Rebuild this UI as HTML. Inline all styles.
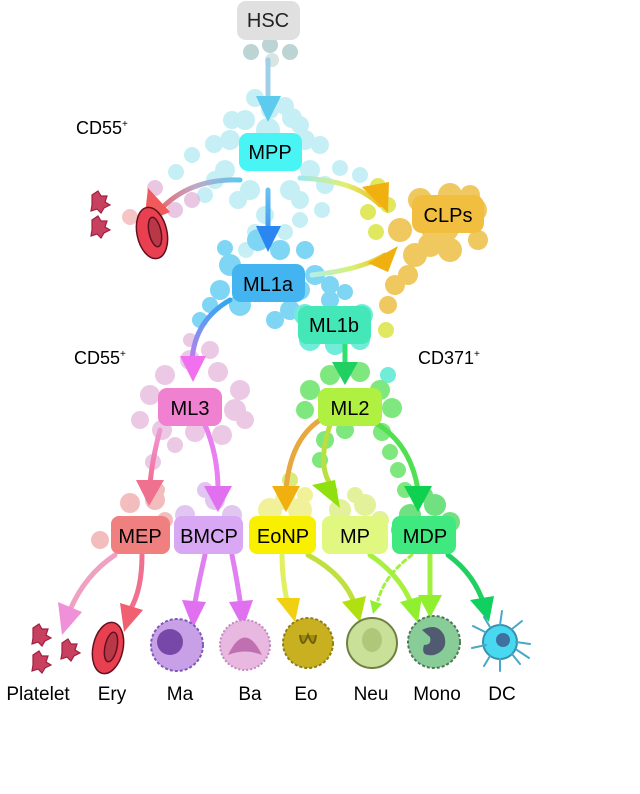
<!DOCTYPE html>
<html><head><meta charset="utf-8"><style>
html,body{margin:0;padding:0;background:#fff;width:640px;height:794px;overflow:hidden}
svg{display:block}
text{font-family:"Liberation Sans",sans-serif;}
</style></head><body>
<svg width="640" height="794" viewBox="0 0 640 794" xmlns="http://www.w3.org/2000/svg">
<defs>
<linearGradient id="gA" gradientUnits="userSpaceOnUse" x1="0" y1="170" x2="0" y2="250"><stop offset="0" stop-color="#7fd6f0"/><stop offset="1" stop-color="#2a86f0"/></linearGradient>
<linearGradient id="gL" gradientUnits="userSpaceOnUse" x1="240" y1="0" x2="150" y2="0"><stop offset="0" stop-color="#5cc8f0"/><stop offset="0.5" stop-color="#c0a8c8"/><stop offset="1" stop-color="#f05a5a"/></linearGradient>
<linearGradient id="gR" gradientUnits="userSpaceOnUse" x1="300" y1="0" x2="390" y2="0"><stop offset="0" stop-color="#9fe8f0"/><stop offset="0.5" stop-color="#e0f070"/><stop offset="1" stop-color="#f0b010"/></linearGradient>
<linearGradient id="gC" gradientUnits="userSpaceOnUse" x1="310" y1="0" x2="395" y2="0"><stop offset="0" stop-color="#b0f0f0"/><stop offset="0.5" stop-color="#d8f070"/><stop offset="1" stop-color="#f0b010"/></linearGradient>
<linearGradient id="g3" gradientUnits="userSpaceOnUse" x1="0" y1="300" x2="0" y2="380"><stop offset="0" stop-color="#30a8f0"/><stop offset="1" stop-color="#f070f0"/></linearGradient>
<linearGradient id="gB" gradientUnits="userSpaceOnUse" x1="0" y1="420" x2="0" y2="500"><stop offset="0" stop-color="#f0a0e0"/><stop offset="1" stop-color="#f06080"/></linearGradient>
</defs>

<!-- clusters -->
<g fill="#bcd4d4"><circle cx="251" cy="52" r="8"/><circle cx="270" cy="45" r="8"/><circle cx="290" cy="52" r="8"/><circle cx="272" cy="60" r="7" opacity=".6"/></g>
<g fill="#9fe6ee" opacity=".6">
<circle cx="255" cy="98" r="9"/><circle cx="285" cy="106" r="9"/><circle cx="232" cy="120" r="9"/><circle cx="300" cy="125" r="9"/>
<circle cx="214" cy="144" r="9"/><circle cx="192" cy="155" r="8"/><circle cx="176" cy="172" r="8"/><circle cx="320" cy="145" r="9"/><circle cx="340" cy="168" r="8"/><circle cx="360" cy="175" r="8"/>
<circle cx="225" cy="170" r="10"/><circle cx="310" cy="170" r="10"/><circle cx="250" cy="190" r="10"/><circle cx="290" cy="190" r="10"/><circle cx="205" cy="195" r="8"/><circle cx="322" cy="210" r="8"/>
<circle cx="230" cy="140" r="10"/><circle cx="305" cy="140" r="10"/><circle cx="268" cy="130" r="12"/><circle cx="265" cy="215" r="9"/><circle cx="300" cy="220" r="8"/>
<circle cx="246" cy="250" r="8"/><circle cx="282" cy="248" r="8"/>
<circle cx="245" cy="120" r="10"/><circle cx="292" cy="118" r="10"/><circle cx="238" cy="200" r="9"/><circle cx="300" cy="200" r="9"/><circle cx="215" cy="180" r="9"/><circle cx="325" cy="185" r="9"/><circle cx="270" cy="110" r="9"/><circle cx="255" cy="232" r="8"/><circle cx="285" cy="232" r="8"/></g>
<g fill="#e0b0d8" opacity=".7"><circle cx="155" cy="188" r="8"/><circle cx="175" cy="210" r="8"/><circle cx="192" cy="200" r="8"/></g>
<g fill="#f0a0a0" opacity=".6"><circle cx="130" cy="217" r="8"/><circle cx="160" cy="234" r="8"/></g>
<g fill="#e0e860"><circle cx="378" cy="186" r="8"/><circle cx="368" cy="212" r="8"/><circle cx="388" cy="205" r="8"/><circle cx="376" cy="232" r="8"/><circle cx="350" cy="320" r="8"/><circle cx="386" cy="330" r="8"/></g>
<g fill="#f0c860">
<circle cx="400" cy="230" r="12"/><circle cx="420" cy="200" r="12"/><circle cx="450" cy="195" r="12"/><circle cx="475" cy="210" r="12"/><circle cx="478" cy="240" r="10"/><circle cx="450" cy="250" r="12"/><circle cx="415" cy="255" r="12"/><circle cx="395" cy="285" r="10"/><circle cx="388" cy="305" r="9"/><circle cx="408" cy="275" r="10"/><circle cx="440" cy="225" r="20"/><circle cx="470" cy="195" r="10"/><circle cx="430" cy="245" r="12"/></g>
<g fill="#7fd6f4">
<circle cx="258" cy="240" r="11"/><circle cx="230" cy="265" r="11"/><circle cx="220" cy="290" r="10"/><circle cx="240" cy="305" r="11"/><circle cx="290" cy="310" r="10"/><circle cx="300" cy="290" r="10"/><circle cx="315" cy="275" r="10"/><circle cx="330" cy="285" r="9"/><circle cx="330" cy="300" r="9"/><circle cx="210" cy="305" r="8"/><circle cx="200" cy="320" r="8"/><circle cx="275" cy="320" r="9"/><circle cx="305" cy="250" r="9"/><circle cx="345" cy="292" r="8"/><circle cx="280" cy="250" r="10"/><circle cx="225" cy="248" r="8"/></g>
<g fill="#70ecd8"><circle cx="305" cy="315" r="11"/><circle cx="362" cy="315" r="11"/><circle cx="310" cy="340" r="11"/><circle cx="360" cy="340" r="10"/><circle cx="335" cy="345" r="10"/><circle cx="388" cy="375" r="8"/></g>
<g fill="#e8c0e0" opacity=".85">
<circle cx="190" cy="360" r="10"/><circle cx="210" cy="350" r="9"/><circle cx="218" cy="372" r="10"/><circle cx="165" cy="375" r="10"/><circle cx="150" cy="395" r="10"/><circle cx="140" cy="420" r="9"/><circle cx="162" cy="430" r="10"/><circle cx="195" cy="432" r="10"/><circle cx="222" cy="435" r="10"/><circle cx="235" cy="410" r="11"/><circle cx="240" cy="390" r="10"/><circle cx="245" cy="420" r="9"/><circle cx="175" cy="445" r="8"/><circle cx="153" cy="462" r="8"/><circle cx="190" cy="340" r="7"/></g>
<g fill="#7ee87e">
<circle cx="330" cy="375" r="10"/><circle cx="360" cy="372" r="10"/><circle cx="310" cy="390" r="10"/><circle cx="380" cy="390" r="10"/><circle cx="305" cy="410" r="9"/><circle cx="392" cy="408" r="10"/><circle cx="382" cy="432" r="9"/><circle cx="390" cy="452" r="8"/><circle cx="398" cy="470" r="8"/><circle cx="325" cy="440" r="9"/><circle cx="345" cy="430" r="9"/><circle cx="320" cy="460" r="8"/><circle cx="405" cy="490" r="8"/></g>
<g fill="#f0a8a8" opacity=".75"><circle cx="130" cy="503" r="10"/><circle cx="155" cy="500" r="10"/><circle cx="165" cy="520" r="8"/><circle cx="120" cy="525" r="9"/><circle cx="100" cy="540" r="9"/><circle cx="158" cy="490" r="7"/></g>
<g fill="#dcb8f0" opacity=".8"><circle cx="185" cy="515" r="10"/><circle cx="215" cy="500" r="10"/><circle cx="232" cy="515" r="10"/><circle cx="205" cy="490" r="8"/></g>
<g fill="#f0f090" opacity=".9"><circle cx="270" cy="510" r="12"/><circle cx="300" cy="510" r="12"/><circle cx="285" cy="500" r="10"/><circle cx="260" cy="525" r="8"/><circle cx="290" cy="480" r="8" fill="#d8e870"/><circle cx="305" cy="495" r="8"/></g>
<g fill="#e0f090" opacity=".9"><circle cx="340" cy="510" r="11"/><circle cx="365" cy="505" r="11"/><circle cx="380" cy="520" r="9"/><circle cx="355" cy="495" r="8"/></g>
<g fill="#70e080"><circle cx="410" cy="515" r="11"/><circle cx="435" cy="505" r="11"/><circle cx="450" cy="522" r="10"/><circle cx="400" cy="530" r="9"/><circle cx="425" cy="495" r="8"/></g>

<!-- arrows -->
<g fill="none" stroke-width="5" stroke-linecap="round">
<path d="M268 60 V100" stroke="#a0d0e8"/>
<path d="M268 190 V230" stroke="url(#gA)"/>
<path d="M240 180 Q190 178 160 210" stroke="url(#gL)"/>
<path d="M300 178 Q355 180 380 205" stroke="url(#gR)"/>
<path d="M312 275 Q360 270 385 255" stroke="url(#gC)"/>
<path d="M230 300 Q195 320 192 360" stroke="url(#g3)"/>
<path d="M345 345 V365" stroke="#30e070"/>
<path d="M160 430 Q152 460 150 485" stroke="url(#gB)"/>
<path d="M205 425 Q218 455 218 490" stroke="#e880f0"/>
<path d="M320 420 Q290 440 286 490" stroke="#e8a840"/>
<path d="M330 425 Q315 470 335 490" stroke="#b8e040"/>
<path d="M370 420 Q410 440 418 490" stroke="#50e050"/>
<path d="M115 555 Q85 575 70 610" stroke="#f0a0c0"/>
<path d="M142 555 Q142 590 130 610" stroke="#f07090"/>
<path d="M205 555 Q198 585 194 608" stroke="#e080f0"/>
<path d="M232 555 Q238 585 241 608" stroke="#e080f0"/>
<path d="M282 555 Q282 580 288 605" stroke="#e0f060"/>
<path d="M308 555 Q345 575 355 605" stroke="#c0e040"/>
<path d="M370 555 Q400 575 412 605" stroke="#a8f040"/>
<path d="M430 555 V600" stroke="#a0f040"/>
<path d="M448 555 Q475 575 484 605" stroke="#20d060"/>
<path d="M412 555 Q385 575 378 600" stroke="#a0f040" stroke-width="3" stroke-dasharray="4 4"/>
</g>
<g>
<polygon points="256,96 281,96 268,122" fill="#5ccbee"/>
<polygon points="256,226 281,226 268,252" fill="#2a86f0"/>
<polygon points="148,188 170,212 144,223" fill="#f05a5a"/>
<polygon points="362,187 389,182 388,213" fill="#f0b010"/>
<polygon points="368,263 398,246 388,272" fill="#f0b010"/>
<polygon points="180,356 206,356 193,382" fill="#f070f0"/>
<polygon points="332,362 358,362 345,385" fill="#20d060"/>
<polygon points="136,480 164,480 149,506" fill="#f07090"/>
<polygon points="204,486 232,486 218,512" fill="#e070f0"/>
<polygon points="272,486 300,486 286,512" fill="#f0b010"/>
<polygon points="312,485 335,480 340,508" fill="#90e010"/>
<polygon points="404,486 432,486 418,512" fill="#10d050"/>
<polygon points="58,602 82,612 62,635" fill="#f090d8"/>
<polygon points="120,603 143,610 124,632" fill="#f06070"/>
<polygon points="182,600 206,602 193,628" fill="#e070f0"/>
<polygon points="229,602 253,600 243,628" fill="#e070f0"/>
<polygon points="276,598 300,598 295,622" fill="#f0d010"/>
<polygon points="342,602 366,596 360,622" fill="#b0e010"/>
<polygon points="400,602 422,596 418,623" fill="#90f030"/>
<polygon points="418,595 442,595 430,618" fill="#90f030"/>
<polygon points="470,600 494,596 489,622" fill="#10d060"/>
<polygon points="370,600 382,604 373,614" fill="#90f030"/>
</g>

<!-- boxes -->
<g font-size="20" text-anchor="middle">
<rect x="237" y="1" width="63" height="39" rx="9" fill="#e0e0e0"/><text x="268" y="27" fill="#222">HSC</text>
<rect x="239" y="133" width="63" height="38" rx="9" fill="#48f4f4"/><text x="270" y="159">MPP</text>
<rect x="412" y="195" width="72" height="38" rx="10" fill="#f2be40"/><text x="448" y="222">CLPs</text>
<rect x="232" y="264" width="73" height="38" rx="9" fill="#44b4f0"/><text x="268" y="291">ML1a</text>
<rect x="298" y="306" width="73" height="38" rx="9" fill="#44e8b8"/><text x="334" y="332">ML1b</text>
<rect x="158" y="388" width="64" height="38" rx="9" fill="#f080d0"/><text x="190" y="415">ML3</text>
<rect x="318" y="388" width="64" height="38" rx="9" fill="#b0f040"/><text x="350" y="415">ML2</text>
<rect x="111" y="516" width="59" height="38" rx="8" fill="#f08080"/><text x="140" y="543">MEP</text>
<rect x="174" y="516" width="69" height="38" rx="8" fill="#d8a8f4"/><text x="209" y="543">BMCP</text>
<rect x="249" y="516" width="67" height="38" rx="8" fill="#f8f000"/><text x="283" y="543">EoNP</text>
<rect x="322" y="516" width="66" height="38" rx="8" fill="#e0f880"/><text x="355" y="543">MP</text>
<rect x="392" y="516" width="64" height="38" rx="8" fill="#40e880"/><text x="425" y="543">MDP</text>
</g>
<g font-size="18">
<text x="76" y="134">CD55<tspan font-size="10" dy="-7">+</tspan></text>
<text x="74" y="364">CD55<tspan font-size="10" dy="-7">+</tspan></text>
<text x="418" y="364">CD371<tspan font-size="10" dy="-7">+</tspan></text>
</g>
<g font-size="19" text-anchor="middle">
<text x="38" y="700">Platelet</text><text x="112" y="700">Ery</text><text x="180" y="700">Ma</text><text x="250" y="700">Ba</text><text x="306" y="700">Eo</text><text x="371" y="700">Neu</text><text x="437" y="700">Mono</text><text x="502" y="700">DC</text>
</g>

<!-- cells -->
<g stroke="#a02040" stroke-width="1.2" fill="#c84060">
<path d="M92 195 l6 -4 l3 5 l6 0 l-2 6 l5 3 l-6 3 l-3 5 l-4 -4 l-6 2 l1 -6 z"/>
<path d="M92 220 l6 -4 l3 5 l6 0 l-2 6 l5 3 l-6 3 l-3 5 l-4 -4 l-6 2 l1 -6 z"/>
<path d="M33 628 l6 -4 l3 5 l6 0 l-2 6 l5 3 l-6 3 l-3 5 l-4 -4 l-6 2 l1 -6 z"/>
<path d="M33 655 l6 -4 l3 5 l6 0 l-2 6 l5 3 l-6 3 l-3 5 l-4 -4 l-6 2 l1 -6 z"/>
<path d="M62 643 l6 -4 l3 5 l6 0 l-2 6 l5 3 l-6 3 l-3 5 l-4 -4 l-6 2 l1 -6 z"/>
</g>
<g stroke="#601020" stroke-width="1.5">
<ellipse cx="152" cy="233" rx="15" ry="26" fill="#e84050" transform="rotate(-12 152 233)"/>
<ellipse cx="155" cy="232" rx="6" ry="15" fill="#b83848" transform="rotate(-12 155 232)"/>
<ellipse cx="108" cy="648" rx="15" ry="26" fill="#e84050" transform="rotate(12 108 648)"/>
<ellipse cx="111" cy="647" rx="6" ry="15" fill="#b83848" transform="rotate(12 111 647)"/>
</g>
<g stroke-width="2">
<circle cx="177" cy="645" r="26" fill="#c8a0e8" stroke="#8058b8" stroke-dasharray="3 2"/><circle cx="170" cy="642" r="13" fill="#7848a8"/>
<circle cx="245" cy="645" r="25" fill="#e8b8e0" stroke="#c088c0" stroke-dasharray="2 2"/><path d="M228 655 Q245 620 262 655 Q245 648 228 655z" fill="#c070b0"/>
<circle cx="308" cy="643" r="25" fill="#c8b020" stroke="#908010" stroke-dasharray="3 2"/><path d="M300 635 q2 16 8 0 q6 16 8 0" stroke="#706010" fill="#a09010"/>
<circle cx="372" cy="643" r="25" fill="#c8e098" stroke="#708040"/><ellipse cx="372" cy="640" rx="10" ry="12" fill="#a8c070" opacity=".8"/>
<circle cx="434" cy="642" r="26" fill="#88cc98" stroke="#507858" stroke-dasharray="3 2"/><path d="M422 630 q15 -8 22 5 q5 15 -10 20 q-14 2 -10 -10 q8 0 6 -8 z" fill="#505a70"/>
<circle cx="500" cy="642" r="17" fill="#48d8f0" stroke="#3890b0"/><circle cx="503" cy="640" r="7" fill="#4070a0"/>
</g>
<g stroke="#48a8c8" stroke-width="2" fill="none" stroke-linecap="round">
<path d="M485 632 l-12 -6 M486 645 l-14 3 M490 656 l-6 10 M500 659 l0 12 M512 654 l8 10 M516 642 l14 2 M512 629 l10 -8 M500 625 l2 -14 M490 627 l-6 -10 M517 650 l12 8"/>
</g>
</svg>
</body></html>
